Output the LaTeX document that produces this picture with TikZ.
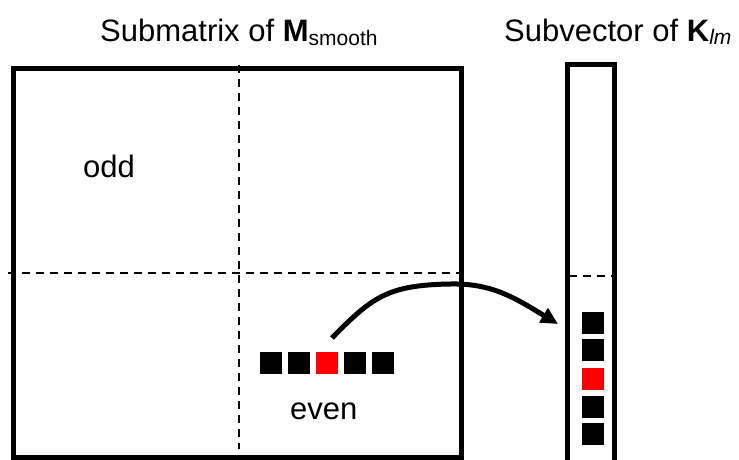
\documentclass[tikz,border=0pt]{standalone}
\usepackage{fontspec}
\setmainfont{Liberation Sans}
\usetikzlibrary{arrows.meta}

\tikzset{
  frame/.style={line width=5pt},
  divider/.style={line width=2pt, dash pattern=on 8pt off 6pt},
  cell/.style={fill=black, minimum size=22pt, inner sep=0pt, outer sep=0pt},
  hotcell/.style={cell, fill=red},
  label/.style={inner sep=0pt, font=\fontsize{31}{31}\selectfont},
  link/.style={line width=5pt, -{Triangle[length=17pt,width=16pt]}}
}

\begin{document}
\begin{tikzpicture}[x=1pt, y=-1pt]
  \clip (0,0) rectangle (739,459);
  \fill[white] (0,0) rectangle (739,459);

  % titles
  \node[label, anchor=base west] (ttlM) at (100,41)
    {Submatrix of \textbf{M}\raisebox{-4pt}{\fontsize{21}{21}\selectfont smooth}};
  \node[label, anchor=base west] (ttlK) at (504,41)
    {Subvector of \textbf{K}\raisebox{-3pt}{\fontsize{21}{21}\selectfont\itshape lm}};

  % quadrant dividers of the submatrix
  \draw[divider] (239,65) -- (239,449);
  \draw[divider] (8,272.5) -- (461,272.5);
  % submatrix frame
  \draw[frame] (13,68.5) rectangle (461.5,457);

  % subvector: divider and open-ended frame
  \draw[divider] (569,276) -- (612,276);
  \draw[frame] (567,480) -- (567,64.5) -- (614.5,64.5) -- (614.5,480);

  % quadrant labels
  \node[label, anchor=base west] (odd) at (83,177.5) {odd};
  \node[label, anchor=base west] (even) at (290,419) {even};

  % row of entries in the even block
  \node[cell] (r1) at (271,363) {};
  \node[cell] (r2) at (299,363) {};
  \node[hotcell] (r3) at (327,363) {};
  \node[cell] (r4) at (355,363) {};
  \node[cell] (r5) at (383,363) {};

  % entries of the subvector
  \node[cell] (c1) at (593,322.5) {};
  \node[cell] (c2) at (593,350) {};
  \node[hotcell] (c3) at (593,378.5) {};
  \node[cell] (c4) at (593,406.5) {};
  \node[cell] (c5) at (593,434) {};

  % mapping arrow
  \coordinate (src) at (332,338);
  \coordinate (dst) at (558,324);
  \draw[link] (src) .. controls (372,297) and (388,285) .. (450,284)
                    .. controls (492,283) and (515,298) .. (dst);
\end{tikzpicture}
\end{document}
